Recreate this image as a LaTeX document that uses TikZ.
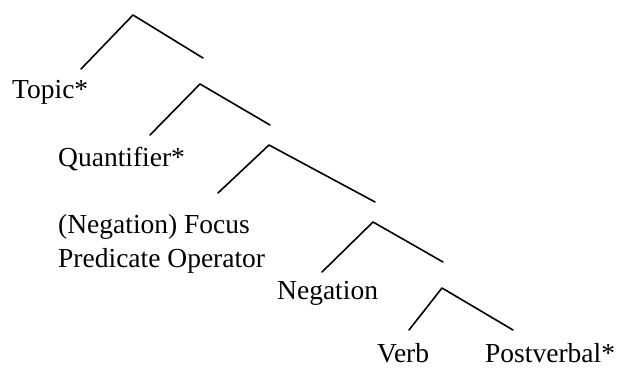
\documentclass[tikz,border=0pt]{standalone}
\usepackage{fontspec}
\setmainfont{Liberation Serif}

\begin{document}
\begin{tikzpicture}
[
    x=1pt, y=-1pt,
    branch/.style={line width=1.6pt, line join=round, line cap=round},
    cat/.style={font=\fontsize{27.5}{34}\selectfont, inner sep=0pt, anchor=base west, align=left},
]
\useasboundingbox (0,0) rectangle (618,369);
% branching points and branch ends
\coordinate (s1) at (133,15);  \coordinate (s1-l) at (81,69);   \coordinate (s1-r) at (203,58);
\coordinate (s2) at (200,84);  \coordinate (s2-l) at (150,135); \coordinate (s2-r) at (270,125);
\coordinate (s3) at (269,145); \coordinate (s3-l) at (218,193); \coordinate (s3-r) at (375,202);
\coordinate (s4) at (373,222); \coordinate (s4-l) at (322,272); \coordinate (s4-r) at (443,262);
\coordinate (s5) at (442,288); \coordinate (s5-l) at (409,330); \coordinate (s5-r) at (513,330);
\foreach \s in {s1,s2,s3,s4,s5}
    \draw [branch] (\s-l) -- (\s) -- (\s-r);
% categories
\node [cat] (topic) at (12,98) {Topic*};
\node [cat] (quant) at (58,166) {Quantifier*};
\node [cat] (focus) at (58,267) {(Negation) Focus\\Predicate Operator};
\node [cat] (neg) at (277,299) {Negation};
\node [cat] (verb) at (377,362) {Verb};
\node [cat] (postv) at (485,362) {Postverbal*};
\end{tikzpicture}
\end{document}
